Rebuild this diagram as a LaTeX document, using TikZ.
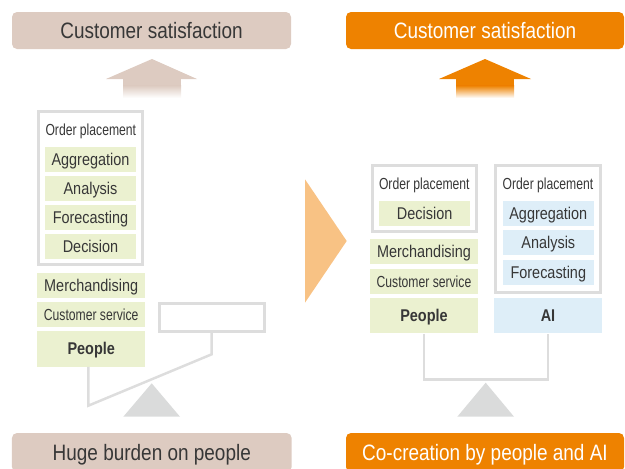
\documentclass[tikz,border=0pt]{standalone}
\usepackage{fontspec}
\newfontfamily\condfont[FakeStretch=0.85]{Liberation Sans}
\newfontfamily\narrowfont[FakeStretch=0.76]{Liberation Sans}
\definecolor{brownbox}{RGB}{221,203,193}
\definecolor{orangebox}{RGB}{238,130,0}
\definecolor{chevron}{RGB}{248,194,132}
\definecolor{taskgreen}{RGB}{235,241,208}
\definecolor{aiblue}{RGB}{222,238,248}
\definecolor{framegray}{RGB}{221,221,221}
\definecolor{fulcrumgray}{RGB}{218,219,219}
\definecolor{textdark}{RGB}{55,55,55}
\tikzset{
  title/.style={rounded corners=5pt, minimum width=279pt, minimum height=37pt, inner sep=0pt,
    text height=16pt, text depth=0pt, font=\condfont\fontsize{22.3}{26}\selectfont},
  frame/.style={draw=framegray, line width=2.8pt, inner sep=0pt},
  cell/.style={inner sep=0pt, text height=12.2pt, text depth=0pt, text=textdark,
    font=\condfont\fontsize{17}{20}\selectfont},
  task/.style={cell, fill=taskgreen, minimum width=91pt, minimum height=24.7pt},
  aitask/.style={cell, fill=aiblue, minimum width=91.3pt, minimum height=25pt},
  role/.style={cell, fill=taskgreen, minimum width=108pt, minimum height=24.5pt},
  small/.style={cell, text height=11.5pt, font=\narrowfont\fontsize{16}{19}\selectfont},
  lever/.style={draw=framegray, line width=2.5pt},
  fulcrum/.style={fill=fulcrumgray},
}
\begin{document}
\begin{tikzpicture}[x=1pt, y={(0pt,-1pt)}]
  \useasboundingbox (0,0) rectangle (625,469);
  \node[title, fill=brownbox, text=textdark] (satL) at (151.5,30.5) {Customer satisfaction};
  \node[title, fill=orangebox, text=white, minimum width=278pt] (satR) at (485,30.5) {Customer satisfaction};
  \node[title, fill=brownbox, text=textdark, minimum width=279.7pt, minimum height=39pt] (burden) at (151.8,452.5) {Huge burden on people};
  \node[title, fill=orangebox, text=white, minimum width=278pt, minimum height=39pt] (cocreate) at (485,452.5) {Co-creation by people and AI};

  \fill[brownbox] (106,79) -- (152,59) -- (197,79) -- cycle;
  \fill[brownbox] (123,78.5) rectangle (181,86);
  \shade[top color=brownbox, bottom color=white] (123,85.5) rectangle (181,98);
  \fill[orangebox] (439,79) -- (485,59) -- (531,79) -- cycle;
  \fill[orangebox] (456,78.5) rectangle (514,86);
  \shade[top color=orangebox, bottom color=white] (456,85.5) rectangle (514,98);

  \fill[chevron] (305,179.3) -- (346.7,241) -- (305,302.7) -- cycle;

  \node[frame, minimum width=104pt, minimum height=153pt] (frameL) at (90.8,188) {};
  \node[small] (orderL) at (90.8,130) {Order placement};
  \node[task] (aggL) at (90.5,159.3) {Aggregation};
  \node[task] (anaL) at (90.5,188.3) {Analysis};
  \node[task] (forL) at (90.5,217.3) {Forecasting};
  \node[task] (decL) at (90.5,246.5) {Decision};
  \node[role] (merL) at (91.2,285.5) {Merchandising};
  \node[role, small] (csL) at (91.2,314.5) {Customer service};
  \node[role, minimum height=35.7pt, font=\condfont\bfseries\fontsize{17}{20}\selectfont] (pplL) at (91.2,348.8) {People};
  \node[frame, minimum width=105pt, minimum height=27.4pt] (emptyL) at (211.7,317.5) {};
  \coordinate (lowL) at (88.3,405.7);
  \coordinate (highL) at (211.7,354.3);
  \draw[lever] (pplL.south -| lowL) -- (lowL) -- (highL) -- (emptyL.south);
  \fill[fulcrum] (123.3,416.7) -- (151.7,383.3) -- (180,416.7) -- cycle;

  \node[frame, minimum width=104.3pt, minimum height=66.3pt] (frameR1) at (424.3,198.7) {};
  \node[small] (orderR1) at (424.3,183.3) {Order placement};
  \node[task, minimum width=90.7pt] (decR) at (424.7,213.3) {Decision};
  \node[role] (merR) at (424,251.7) {Merchandising};
  \node[role, small] (csR) at (424,281.5) {Customer service};
  \node[role, minimum height=35pt, font=\condfont\bfseries\fontsize{17}{20}\selectfont] (pplR) at (424,315.8) {People};
  \node[frame, minimum width=105pt, minimum height=127pt] (frameR2) at (548,229) {};
  \node[small] (orderR2) at (548,183.3) {Order placement};
  \node[aitask] (aggR) at (548.3,213) {Aggregation};
  \node[aitask] (anaR) at (548.3,242.7) {Analysis};
  \node[aitask] (forR) at (548.3,272.5) {Forecasting};
  \node[role, fill=aiblue, minimum height=35pt, font=\condfont\bfseries\fontsize{17}{20}\selectfont] (aiR) at (548,315.8) {AI};
  \coordinate (barR) at (485,379.3);
  \draw[lever] (pplR.south) |- (aiR.south |- barR) -- (aiR.south);
  \fill[fulcrum] (457.3,416.7) -- (485.7,382.7) -- (514,416.7) -- cycle;
\end{tikzpicture}
\end{document}
